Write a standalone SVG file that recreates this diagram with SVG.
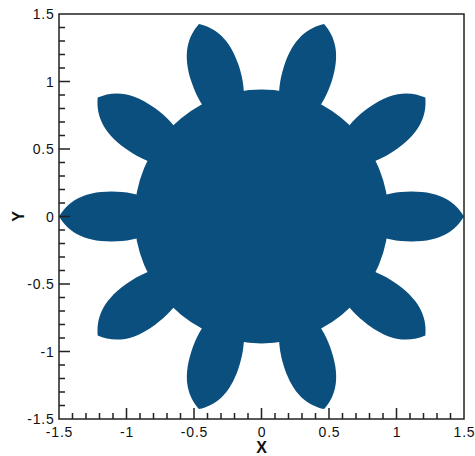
<svg xmlns="http://www.w3.org/2000/svg" width="475" height="456" viewBox="0 0 475 456">
<style>
.fill{fill:#0b4f7e}
.tick{font-family:"Liberation Sans",Arial,sans-serif;font-size:14px;letter-spacing:0.8px;fill:#111}
.lab{font-family:"Liberation Sans",Arial,sans-serif;font-size:16px;font-weight:bold;fill:#111}
.ax{fill:none;stroke:#222;stroke-width:1.5}
</style>
<defs>
<path id="leaf" d="M -52.5 0 C -52.5 -14 -29 -25 0 -25 C 30 -25 44 -14 52.5 0 C 44 14 30 25 0 25 C -29 25 -52.5 14 -52.5 0 Z"/>
</defs>
<rect width="475" height="456" fill="#fff"/>
<g id="shape" class="fill">
<g id="petal0"><use href="#leaf" transform="translate(261.5 216.5) rotate(0) translate(150 0)"/></g>
<g id="petal36"><use href="#leaf" transform="translate(261.5 216.5) rotate(-36) translate(150 0)"/></g>
<g id="petal72"><use href="#leaf" transform="translate(261.5 216.5) rotate(-72) translate(150 0)"/></g>
<g id="petal108"><use href="#leaf" transform="translate(261.5 216.5) rotate(-108) translate(150 0)"/></g>
<g id="petal144"><use href="#leaf" transform="translate(261.5 216.5) rotate(-144) translate(150 0)"/></g>
<g id="petal180"><use href="#leaf" transform="translate(261.5 216.5) rotate(-180) translate(150 0)"/></g>
<g id="petal216"><use href="#leaf" transform="translate(261.5 216.5) rotate(-216) translate(150 0)"/></g>
<g id="petal252"><use href="#leaf" transform="translate(261.5 216.5) rotate(-252) translate(150 0)"/></g>
<g id="petal288"><use href="#leaf" transform="translate(261.5 216.5) rotate(-288) translate(150 0)"/></g>
<g id="petal324"><use href="#leaf" transform="translate(261.5 216.5) rotate(-324) translate(150 0)"/></g>
<g id="body"><circle cx="261.5" cy="216.5" r="127"/></g>
</g>
<g id="axes">
<rect class="ax" x="59" y="14" width="405" height="405"/>
<path class="ax" stroke-width="1.3" d="M59 27.5h6M59 41h6M59 54.5h6M59 68h6M59 95h6M59 108.5h6M59 122h6M59 135.5h6M59 162.5h6M59 176h6M59 189.5h6M59 203h6M59 230h6M59 243.5h6M59 257h6M59 270.5h6M59 297.5h6M59 311h6M59 324.5h6M59 338h6M59 365h6M59 378.5h6M59 392h6M59 405.5h6"/>
<path class="ax" stroke-width="1.8" d="M59 81.5h11M59 149h11M59 216.5h11M59 284h11M59 351.5h11"/>
<path class="ax" stroke-width="1.3" d="M72.5 419v-6M86 419v-6M99.5 419v-6M113 419v-6M140 419v-6M153.5 419v-6M167 419v-6M180.5 419v-6M207.5 419v-6M221 419v-6M234.5 419v-6M248 419v-6M275 419v-6M288.5 419v-6M302 419v-6M315.5 419v-6M342.5 419v-6M356 419v-6M369.5 419v-6M383 419v-6M410 419v-6M423.5 419v-6M437 419v-6M450.5 419v-6"/>
<path class="ax" stroke-width="1.8" d="M126.5 419v-11M194 419v-11M261.5 419v-11M329 419v-11M396.5 419v-11"/>
</g>
<g id="ylabels" class="tick" text-anchor="end">
<text x="54.5" y="19">1.5</text>
<text x="54.5" y="86.5">1</text>
<text x="54.5" y="154">0.5</text>
<text x="54.5" y="221.5">0</text>
<text x="54.5" y="289">-0.5</text>
<text x="54.5" y="356.5">-1</text>
<text x="54.5" y="424">-1.5</text>
</g>
<g id="xlabels" class="tick" text-anchor="middle">
<text x="59.5" y="436.5">-1.5</text>
<text x="127" y="436.5">-1</text>
<text x="194.5" y="436.5">-0.5</text>
<text x="262" y="436.5">0</text>
<text x="329.5" y="436.5">0.5</text>
<text x="397" y="436.5">1</text>
<text x="464.5" y="436.5">1.5</text>
</g>
<text class="lab" x="261.5" y="453" text-anchor="middle">X</text>
<text class="lab" transform="translate(24 216.5) rotate(-90)" text-anchor="middle">Y</text>
</svg>
